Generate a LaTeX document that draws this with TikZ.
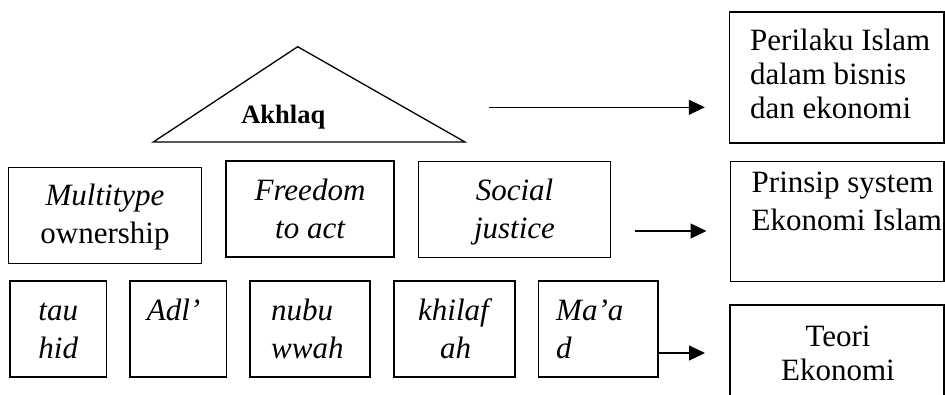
\documentclass[tikz,border=0pt]{standalone}
\usepackage{fontspec}
\setmainfont{Liberation Serif}
\usetikzlibrary{arrows.meta}
\begin{document}
\begin{tikzpicture}[x=1pt,y=-1pt,
  box/.style={draw, line width=1.3pt, inner sep=0pt, outer sep=0pt},
  txt/.style={inner sep=0pt, anchor=base, font=\fontsize{31}{36}\selectfont},
  txtl/.style={txt, anchor=base west},
  arr/.style={line width=1.3pt, -{Triangle[length=16pt,width=15pt]}}]
\clip (0,0) rectangle (945,394);
\fill[white] (0,0) rectangle (945,394);
% triangle
\coordinate (tapex) at (297.7,46.7);
\coordinate (tleft) at (153.3,142);
\coordinate (tright) at (465,142);
\draw[line width=1.3pt, line join=miter] (tapex) -- (tleft) -- (tright) -- cycle;
\node[txt, font=\fontsize{26.5}{30}\selectfont\bfseries] (akhlaq) at (283.3,123.3) {Akhlaq};
% right boxes
\node[box, minimum width=214.7pt, minimum height=131pt] (peri) at (836.65,77.5) {};
\node[box, minimum width=213.5pt, minimum height=119.8pt] (prinsip) at (837.25,221.6) {};
\node[box, minimum width=214pt, minimum height=115pt] (teori) at (837,362.5) {};
% middle row
\node[box, minimum width=193.4pt, minimum height=95.6pt] (multi) at (105,215.5) {};
\node[box, minimum width=168pt, minimum height=96pt] (free) at (310,209) {};
\node[box, minimum width=192.4pt, minimum height=95.8pt] (social) at (514.5,209.4) {};
% bottom row
\node[box, minimum width=96.7pt, minimum height=96pt] (tauhid) at (58.35,329) {};
\node[box, minimum width=96.7pt, minimum height=96pt] (adl) at (178.35,329) {};
\node[box, minimum width=120pt, minimum height=96pt] (nubu) at (310,329) {};
\node[box, minimum width=121pt, minimum height=96pt] (khilaf) at (454.5,329) {};
\node[box, minimum width=119.7pt, minimum height=96pt] (maad) at (598.15,329) {};
% texts
\node[txt] (t-multi1) at (105,205) {\itshape Multitype};
\node[txt] (t-multi2) at (105,243) {ownership};
\node[txt] (t-free1) at (310,200) {\itshape Freedom};
\node[txt] (t-free2) at (310,238) {\itshape to act};
\node[txt] (t-soc1) at (514.5,200) {\itshape Social};
\node[txt] (t-soc2) at (514.5,238) {\itshape justice};
\node[txt] (t-tau1) at (58.3,320) {\itshape tau};
\node[txt] (t-tau2) at (58.3,358) {\itshape hid};
\node[txt] (t-adl) at (173.5,320) {\itshape Adl’};
\node[txtl] (t-nubu1) at (271,320) {\itshape nubu};
\node[txtl] (t-nubu2) at (271,358) {\itshape wwah};
\node[txt] (t-khi1) at (453.5,320) {\itshape khilaf};
\node[txt] (t-khi2) at (455.5,358) {\itshape ah};
\node[txtl] (t-maad1) at (556,320) {\itshape Ma’a};
\node[txtl] (t-maad2) at (556,358) {\itshape d};
\node[txtl] (t-peri1) at (750,50) {Perilaku Islam};
\node[txtl] (t-peri2) at (750,84) {dalam bisnis};
\node[txtl] (t-peri3) at (750,118) {dan ekonomi};
\node[txtl] (t-pr1) at (751.5,192) {Prinsip system};
\node[txtl] (t-pr2) at (751.5,230) {Ekonomi Islam};
\node[txt] (t-te1) at (838,346) {Teori};
\node[txt] (t-te2) at (838,380) {Ekonomi};
% arrows
\coordinate (a1s) at (489,107.3);
\draw[arr, shorten >=24.5pt] (a1s) -- (a1s -| peri.west);
\coordinate (a2s) at (635,231);
\draw[arr, shorten >=24pt] (a2s) -- (a2s -| prinsip.west);
\path (maad.east) ++(0,24) coordinate (a3s);
\draw[arr, shorten >=25pt] (a3s) -- (a3s -| teori.west);
\end{tikzpicture}
\end{document}
